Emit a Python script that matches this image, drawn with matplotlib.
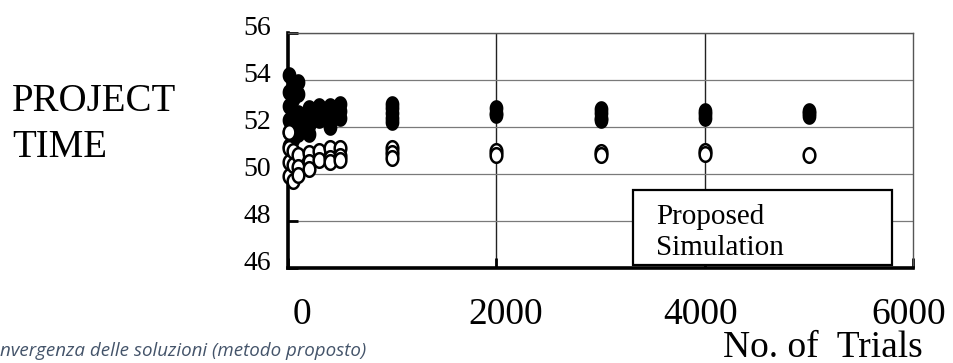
import matplotlib
matplotlib.use("Agg")
import matplotlib.pyplot as plt
import numpy as np
from matplotlib.path import Path
from matplotlib.patches import Rectangle
from matplotlib.transforms import ScaledTranslation


# Trial counts and project times (several runs per trial count)
proposed_trials = [10] * 6 + [50] * 5 + [100] * 5 + [200] * 4 + [300] * 3 + [400] * 4 \
    + [500] * 3 + [1000] * 5 + [2000] * 3 + [3000] * 4 + [4000] * 3 + [5000] * 3
proposed_time = [54.2, 53.5, 52.9, 52.3, 51.8, 51.2,
                 53.8, 53.2, 52.6, 52.0, 51.5,
                 53.9, 53.4, 52.6, 52.1, 51.7,
                 52.8, 52.4, 52.1, 51.7,
                 52.9, 52.6, 52.3,
                 52.9, 52.6, 52.3, 52.0,
                 53.0, 52.7, 52.4,
                 53.0, 52.8, 52.6, 52.4, 52.2,
                 52.8, 52.6, 52.5,
                 52.75, 52.6, 52.4, 52.3,
                 52.7, 52.55, 52.4,
                 52.7, 52.6, 52.45]

simulation_trials = [10] * 4 + [50] * 3 + [100] * 3 + [200] * 3 + [300] * 2 + [400] * 3 \
    + [500] * 3 + [1000] * 3 + [2000] * 2 + [3000] * 2 + [4000] * 2 + [5000]
simulation_time = [51.8, 51.1, 50.5, 49.9,
                   51.0, 50.4, 49.7,
                   50.8, 50.3, 49.95,
                   50.9, 50.5, 50.2,
                   51.0, 50.6,
                   51.1, 50.7, 50.5,
                   51.1, 50.75, 50.6,
                   51.1, 50.9, 50.7,
                   51.0, 50.8,
                   50.95, 50.8,
                   51.0, 50.85,
                   50.8]

x_ticks = [0, 2000, 4000, 6000]
y_ticks = [46, 48, 50, 52, 54, 56]

serif = "Liberation Serif"

fig = plt.figure(figsize=(9.54, 3.63), dpi=100)
W, H = 954, 363
ax = fig.add_axes([288 / W, 1 - 268 / H, (913 - 288) / W, (268 - 33) / H])

# slightly tall elliptical marker
t = np.linspace(0, 2 * np.pi, 61)
oval = Path(np.column_stack([0.8 * np.cos(t), np.sin(t)]), closed=True)

ax.plot(proposed_trials, proposed_time, linestyle="none", marker=oval,
        markersize=10.5, markerfacecolor="black", markeredgecolor="black",
        markeredgewidth=1.5, clip_on=False, zorder=3)
ax.plot(simulation_trials, simulation_time, linestyle="none", marker=oval,
        markersize=10.5, markerfacecolor="white", markeredgecolor="black",
        markeredgewidth=1.8, clip_on=False, zorder=4)

ax.set_xlim(0, 6000)
ax.set_ylim(46, 56)
ax.set_xticks(x_ticks)
ax.set_yticks(y_ticks)

ax.grid(axis="y", color="#7a7a7a", linewidth=0.9)
for xv in x_ticks[1:3]:
    ax.axvline(xv, color="#222222", linewidth=1.0, zorder=1)

for side in ("left", "bottom"):
    ax.spines[side].set_linewidth(2.6)
    ax.spines[side].set_color("black")
for side in ("top", "right"):
    ax.spines[side].set_linewidth(1.0)
    ax.spines[side].set_color("#555555")

ax.tick_params(axis="both", direction="in", length=7, width=2, color="black")
ax.tick_params(axis="y", labelsize=20, pad=12)
ax.tick_params(axis="x", labelsize=27, pad=21)
for lab in ax.get_yticklabels() + ax.get_xticklabels():
    lab.set_fontfamily(serif)
for lab in ax.get_yticklabels():
    lab.set_transform(lab.get_transform() + ScaledTranslation(0, 0.08, fig.dpi_scale_trans))
# x tick labels sit a little off their ticks
for lab, dx in zip(ax.get_xticklabels(), [0.14, 0.09, -0.04, -0.04]):
    lab.set_transform(lab.get_transform() + ScaledTranslation(dx, 0, fig.dpi_scale_trans))

# y label block on the left
fig.text(12 / W, 1 - 111 / H, "PROJECT", family=serif, fontsize=28, va="baseline")
fig.text(12 / W, 1 - 157 / H, "TIME", family=serif, fontsize=28, va="baseline")

# x label under the tick labels
fig.text(923 / W, 1 - 357 / H, "No. of  Trials", family=serif, fontsize=27,
         ha="right", va="baseline")

# legend box
fig.patches.append(Rectangle((633 / W, 1 - 265 / H), (892 - 633) / W, (265 - 190) / H,
                             transform=fig.transFigure, facecolor="white",
                             edgecolor="black", linewidth=1.6, zorder=5))
fig.text(656 / W, 1 - 224 / H, "Proposed", family=serif, fontsize=21, va="baseline", zorder=6)
fig.text(656 / W, 1 - 255 / H, "Simulation", family=serif, fontsize=21, va="baseline", zorder=6)

# caption
fig.text(0, 1 - 356 / H, "nvergenza delle soluzioni (metodo proposto)", family="Open Sans",
         style="italic", fontsize=13.5, color="#44546A", va="baseline")

fig.savefig("out.png", dpi=100)
